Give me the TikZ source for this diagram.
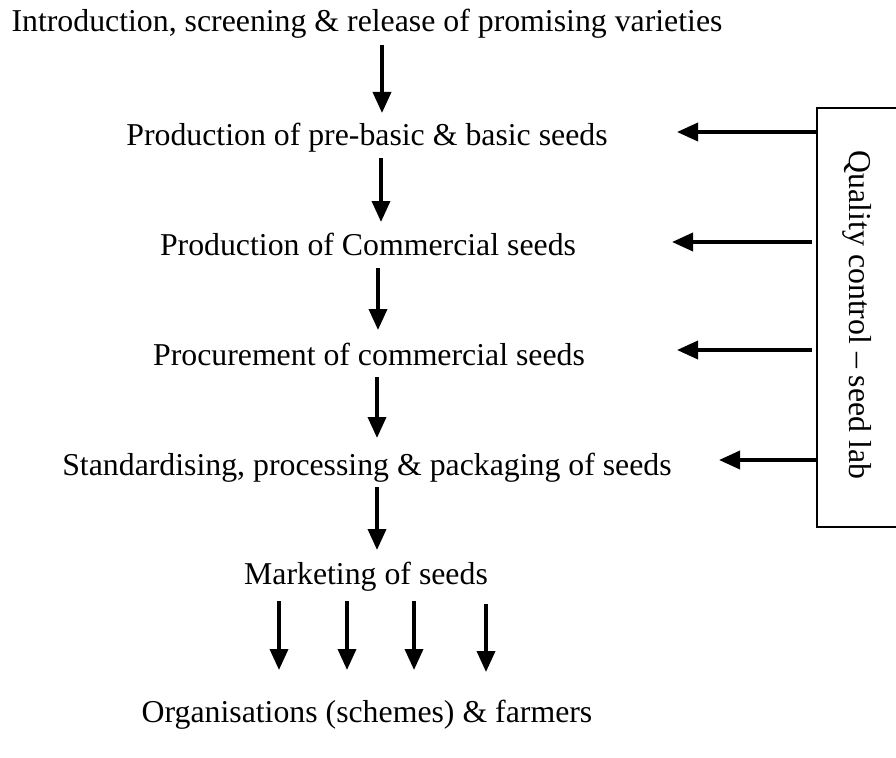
\documentclass[tikz,border=0pt]{standalone}
\usepackage{fontspec}
\setmainfont{Liberation Serif}
\usetikzlibrary{arrows.meta}
\begin{document}
\begin{tikzpicture}[x=1pt,y=-1pt,
  lbl/.style={font=\fontsize{31.8}{38}\selectfont, inner sep=0pt, anchor=base},
  arr/.style={line width=3.6pt, -{Triangle[length=21pt,width=18pt]}},
  qbox/.style={draw, line width=2pt, minimum width=110pt, minimum height=419pt, anchor=north west, inner sep=0pt}]
\useasboundingbox (0,0) rectangle (896,757);
\node[lbl] (intro) at (367,32) {Introduction, screening \& release of promising varieties};
\node[lbl] (basic) at (367,145) {Production of pre-basic \& basic seeds};
\node[lbl] (comm) at (368,255) {Production of Commercial seeds};
\node[lbl] (proc) at (369,365) {Procurement of commercial seeds};
\node[lbl] (stand) at (367,475) {Standardising, processing \& packaging of seeds};
\node[lbl] (mkt) at (366,584) {Marketing of seeds};
\node[lbl] (org) at (367,722) {Organisations (schemes) \& farmers};
\node[qbox] (qc) at (816,107) {};
\node[font=\fontsize{31.8}{38}\selectfont, rotate=-90, inner sep=0pt] (qct) at (857,315) {Quality control -- seed lab};
% vertical arrow end points
\coordinate (v1s) at (382,45);  \coordinate (v1e) at (382,113);
\coordinate (v2s) at (381,158); \coordinate (v2e) at (381,222);
\coordinate (v3s) at (378,268); \coordinate (v3e) at (378,330);
\coordinate (v4s) at (377,377); \coordinate (v4e) at (377,438);
\coordinate (v5s) at (377,487); \coordinate (v5e) at (377,550);
\coordinate (m1s) at (279,601); \coordinate (m1e) at (279,670);
\coordinate (m2s) at (347,601); \coordinate (m2e) at (347,670);
\coordinate (m3s) at (414,601); \coordinate (m3e) at (414,670);
\coordinate (m4s) at (486,604); \coordinate (m4e) at (486,672);
\draw[arr] (v1s) -- (v1e);
\draw[arr] (v2s) -- (v2e);
\draw[arr] (v3s) -- (v3e);
\draw[arr] (v4s) -- (v4e);
\draw[arr] (v5s) -- (v5e);
\draw[arr] (m1s) -- (m1e);
\draw[arr] (m2s) -- (m2e);
\draw[arr] (m3s) -- (m3e);
\draw[arr] (m4s) -- (m4e);
% horizontal arrows from the box
\coordinate (h1e) at (677,132);
\coordinate (h2e) at (672,242);
\coordinate (h3e) at (677,350);
\coordinate (h4e) at (719,460);
\draw[arr] (qc.west |- h1e) -- (h1e);
\draw[arr] (812,242) -- (h2e);
\draw[arr] (812,350) -- (h3e);
\draw[arr] (qc.west |- h4e) -- (h4e);
\end{tikzpicture}
\end{document}
